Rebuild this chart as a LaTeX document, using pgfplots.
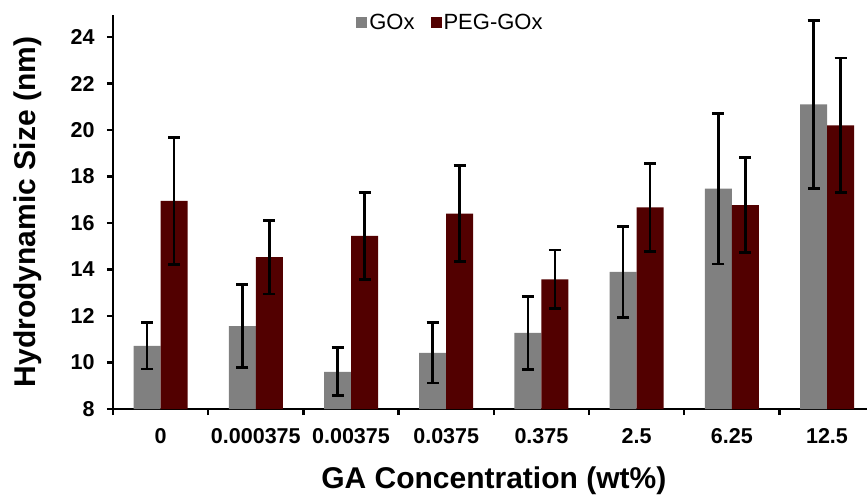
\documentclass[border=0pt]{standalone}
\usepackage{fontspec}
\setmainfont{Liberation Sans}
\usepackage{pgfplots}
\pgfplotsset{compat=1.18}
\definecolor{gox}{HTML}{808080}
\definecolor{peg}{HTML}{520000}

\begin{document}
\begin{tikzpicture}
\begin{axis}[
    scale only axis,
    width=761.6pt, height=394pt,
    at={(0pt,0pt)}, anchor=south west,
    ybar=0pt, bar width=27pt,
    xmin=-0.5, xmax=7.5,
    ymin=8, ymax=24.95,
    axis lines*=left,
    axis line style={line width=2.4pt, -},
    xtick={-0.5,0.5,...,7.5},
    x tick label as interval,
    xticklabels={0,0.000375,0.00375,0.0375,0.375,2.5,6.25,12.5},
    ytick={8,10,...,24},
    tick align=outside,
    major tick length=6pt,
    tick style={line width=2.4pt, black},
    /pgf/number format/assume math mode=true,
    ticklabel style={font=\fontsize{21.5}{24}\selectfont\bfseries},
    xticklabel style={yshift=-10pt},
    yticklabel style={xshift=-9pt},
    xlabel={GA Concentration (wt\%)},
    ylabel={Hydrodynamic Size (nm)},
    xlabel style={yshift=-16pt},
    ylabel style={yshift=22pt},
    label style={font=\fontsize{30}{34}\selectfont\bfseries},
    legend style={at={(0.4431,0.982)}, anchor=center, draw=none, fill=none,
      legend columns=2, font=\fontsize{22}{26}\selectfont,
      /tikz/every even column/.append style={column sep=14pt}},
    legend image code/.code={\fill[#1] (0pt,-5.5pt) rectangle (11pt,5.5pt);},
    error bars/error bar style={line width=2.6pt, black},
    error bars/error mark options={line width=2.8pt, black, mark size=6pt, rotate=90},
]
\addplot+[fill=gox, draw=none,
  error bars/.cd, y dir=both, y explicit]
  coordinates {
  (0,10.72) +- (0,1.0)
  (1,11.57) +- (0,1.8)
  (2,9.6) +- (0,1.03)
  (3,10.42) +- (0,1.3)
  (4,11.27) +- (0,1.58)
  (5,13.9) +- (0,1.95)
  (6,17.48) +- (0,3.24)
  (7,21.1) +- (0,3.6)
  };
\addplot+[fill=peg, draw=none,
  error bars/.cd, y dir=both, y explicit]
  coordinates {
  (0,16.95) +- (0,2.72)
  (1,14.53) +- (0,1.58)
  (2,15.45) +- (0,1.87)
  (3,16.4) +- (0,2.06)
  (4,13.58) +- (0,1.26)
  (5,16.67) +- (0,1.88)
  (6,16.77) +- (0,2.05)
  (7,20.2) +- (0,2.9)
  };
\legend{GOx,PEG-GOx}
\end{axis}
\pgfresetboundingbox
\path[use as bounding box] (-113pt,-87pt) rectangle (754pt,409pt);
\end{tikzpicture}
\end{document}
